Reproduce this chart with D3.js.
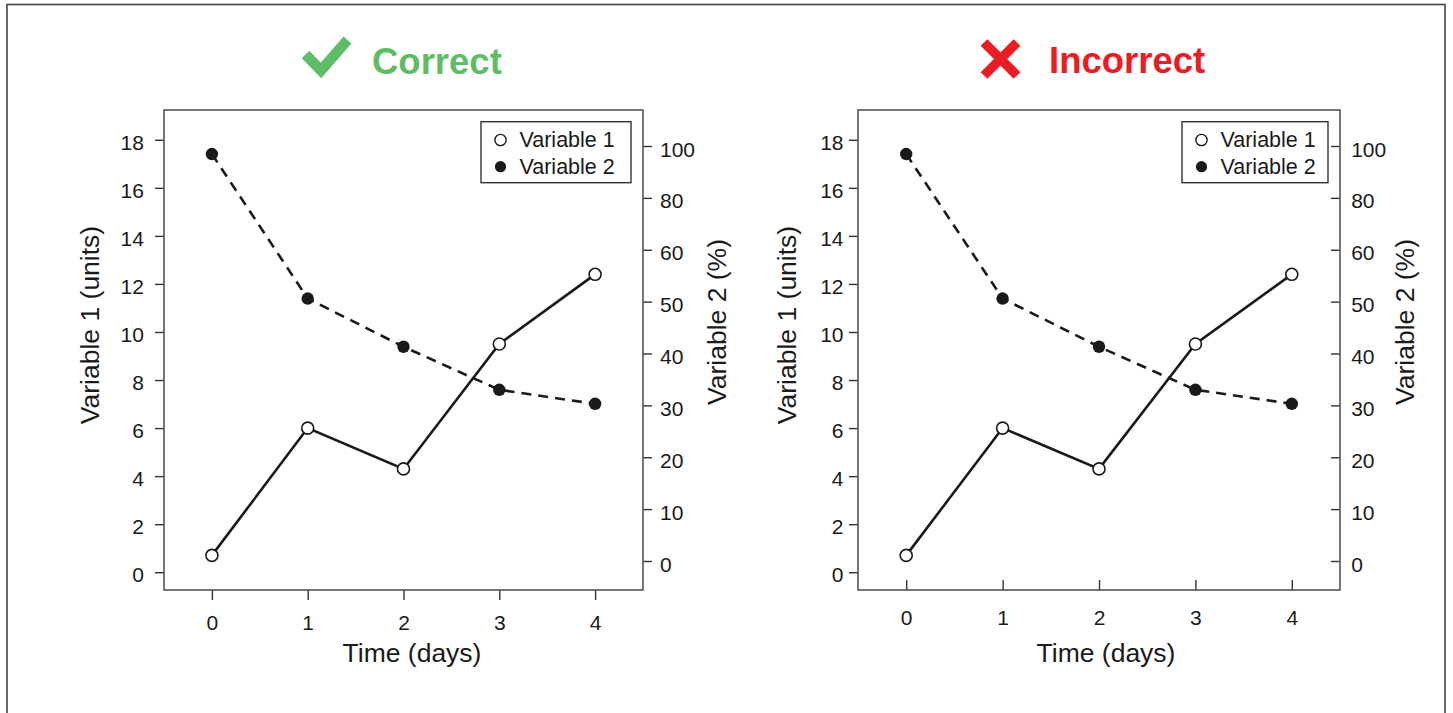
<!DOCTYPE html>
<html>
<head>
<meta charset="utf-8">
<script src="https://cdn.jsdelivr.net/npm/d3@7"></script>
<style>
  html, body { margin: 0; padding: 0; background: #fff; }
  svg { display: block; font-family: "Liberation Sans", Arial, Helvetica, sans-serif; }
</style>
</head>
<body>
<svg id="chart" width="1453" height="713"></svg>
<script>
// ---------------- data ----------------
const days = [0, 1, 2, 3, 4];
const variable1 = [0.7, 6.0, 4.3, 9.5, 12.4];        // units (left axis)
const variable2 = [96.9, 50.6, 41.3, 33.0, 30.3];    // % (right axis)
const xTickValues = [0, 1, 2, 3, 4];
const leftTickValues = [0, 2, 4, 6, 8, 10, 12, 14, 16, 18];
const rightTickValues = [0, 10, 20, 30, 40, 50, 60, 80, 100];
const rightBreaks = [0, 50, 60, 100];                 // right-axis labels are unevenly spaced
const panelTitles = ["Correct", "Incorrect"];
const legendLabels = ["Variable 1", "Variable 2"];
const axisTitles = { x: "Time (days)", left: "Variable 1 (units)", right: "Variable 2 (%)" };

// ---------------- layout ----------------
const svg = d3.select("#chart");
const ink = "#1a1a1a";
const tickFont = "21px";

// outer frame (bottom edge is outside the picture)
svg.append("rect").attr("x", 7).attr("y", 4.5).attr("width", 1438).attr("height", 800)
  .attr("fill", "none").attr("stroke", "#444").attr("stroke-width", 1.6);

const panels = [
  { left: 164, right: 643, top: 110, bottom: 590, inward: false,
    xPad: 15.5, lPad: 11.2, rPad: 8, lTitleOff: 74, rTitleOff: 74, xTitleOff: 8.5,
    legendW: 150, title: panelTitles[0] },
  { left: 858, right: 1340, top: 110, bottom: 590, inward: true,
    xPad: 20.5, lPad: 5.5, rPad: 11.2, lTitleOff: 71, rTitleOff: 65, xTitleOff: 7,
    legendW: 146, title: panelTitles[1] }
];

panels.forEach(p => {
  const g = svg.append("g");
  const h = p.bottom - p.top;

  const x = d3.scaleLinear().domain([-0.5, 4.5]).range([p.left, p.right]);
  const yL = d3.scaleLinear().domain([-0.74, 19.24]).range([p.bottom, p.top]);
  const y0 = p.bottom - 29, s = 51.875;
  const yR = d3.scaleLinear().domain(rightBreaks).range([y0, y0 - 5 * s, y0 - 6 * s, y0 - 8 * s]);

  const tick = 9;
  const dirOut = p.inward ? -tick : tick;

  // left axis (always outward)
  const ax1 = g.append("g").attr("transform", `translate(${p.left},0)`)
    .call(d3.axisLeft(yL).tickValues(leftTickValues).tickFormat(d3.format("d"))
      .tickSizeInner(tick).tickSizeOuter(0).tickPadding(p.lPad));
  // right axis
  const ax2 = g.append("g").attr("transform", `translate(${p.right},0)`)
    .call(d3.axisRight(yR).tickValues(rightTickValues).tickFormat(d3.format("d"))
      .tickSizeInner(dirOut).tickSizeOuter(0).tickPadding(p.rPad));
  // bottom axis
  const ax3 = g.append("g").attr("transform", `translate(0,${p.bottom})`)
    .call(d3.axisBottom(x).tickValues(xTickValues).tickFormat(d3.format("d"))
      .tickSizeInner(dirOut + (p.inward ? -1 : 1)).tickSizeOuter(0).tickPadding(p.xPad));

  [ax1, ax2, ax3].forEach(a => {
    a.select(".domain").remove();
    a.selectAll(".tick line").attr("stroke", "#333").attr("stroke-width", 1.4);
    a.selectAll(".tick text").attr("fill", ink).style("font-size", tickFont)
      .style("font-family", "'Liberation Sans', Arial, Helvetica, sans-serif");
  });
  ax1.selectAll(".tick text").attr("dy", "0.45em");
  ax2.selectAll(".tick text").attr("dy", "0.48em");
  ax3.selectAll(".tick text").attr("dy", "0.68em");

  // plot box
  g.append("rect").attr("x", p.left).attr("y", p.top)
    .attr("width", p.right - p.left).attr("height", h)
    .attr("fill", "none").attr("stroke", "#555").attr("stroke-width", 1.6);

  // lines
  const line1 = d3.line().x((d, i) => x(days[i])).y(d => yL(d));
  const line2 = d3.line().x((d, i) => x(days[i])).y(d => yR(d));
  g.append("path").datum(variable2).attr("d", line2).attr("fill", "none")
    .attr("stroke", ink).attr("stroke-width", 2.6).attr("stroke-dasharray", "10,7");
  g.append("path").datum(variable1).attr("d", line1).attr("fill", "none")
    .attr("stroke", ink).attr("stroke-width", 2.6);

  // points
  g.selectAll(".p2").data(variable2).enter().append("circle")
    .attr("cx", (d, i) => x(days[i])).attr("cy", d => yR(d)).attr("r", 6.2)
    .attr("fill", ink);
  g.selectAll(".p1").data(variable1).enter().append("circle")
    .attr("cx", (d, i) => x(days[i])).attr("cy", d => yL(d)).attr("r", 6)
    .attr("fill", "#fff").attr("stroke", ink).attr("stroke-width", 1.6);

  // legend
  const lx = p.right - 12 - p.legendW, ly = p.top + 11.7;
  g.append("rect").attr("x", lx).attr("y", ly).attr("width", p.legendW).attr("height", 61)
    .attr("fill", "#fff").attr("stroke", "#333").attr("stroke-width", 1.4);
  legendLabels.forEach((lab, i) => {
    const cy = ly + 18.3 + i * 26.7;
    g.append("circle").attr("cx", lx + 19.5).attr("cy", cy).attr("r", 5.6)
      .attr("fill", i === 0 ? "#fff" : ink).attr("stroke", ink).attr("stroke-width", i === 0 ? 1.4 : 0);
    g.append("text").attr("x", lx + 38.5).attr("y", cy + 7.3).text(lab)
      .attr("fill", ink).style("font-size", "21.5px");
  });

  // axis titles
  const midX = (p.left + p.right) / 2;
  g.append("text").attr("x", midX + p.xTitleOff).attr("y", 662).attr("text-anchor", "middle")
    .attr("fill", ink).style("font-size", "26.5px").text(axisTitles.x);
  g.append("text").attr("transform", `translate(${p.left - p.lTitleOff},325) rotate(-90)`)
    .attr("text-anchor", "middle").attr("dy", "0.35em")
    .attr("fill", ink).style("font-size", "26.5px").text(axisTitles.left);
  g.append("text").attr("transform", `translate(${p.right + p.rTitleOff},322) rotate(-90)`)
    .attr("text-anchor", "middle").attr("dy", "0.35em")
    .attr("fill", ink).style("font-size", "26.5px").text(axisTitles.right);
});

// panel titles with icons
const green = "#5fbd68", red = "#ec1c24";
svg.append("path").attr("d", "M305.5,54.5 L321,70.5 L347.5,40")
  .attr("fill", "none").attr("stroke", green).attr("stroke-width", 10.5)
  .attr("stroke-linejoin", "miter").attr("stroke-linecap", "butt");
svg.append("text").attr("x", 372).attr("y", 74).text(panelTitles[0])
  .attr("fill", green).style("font-size", "36.5px").style("font-weight", "bold");

svg.append("path").attr("d", "M984,42.5 L1017,75.5 M1017,42.5 L984,75.5")
  .attr("fill", "none").attr("stroke", red).attr("stroke-width", 9.5);
svg.append("text").attr("x", 1049).attr("y", 73).text(panelTitles[1])
  .attr("fill", red).style("font-size", "36.5px").style("font-weight", "bold");
</script>
</body>
</html>
